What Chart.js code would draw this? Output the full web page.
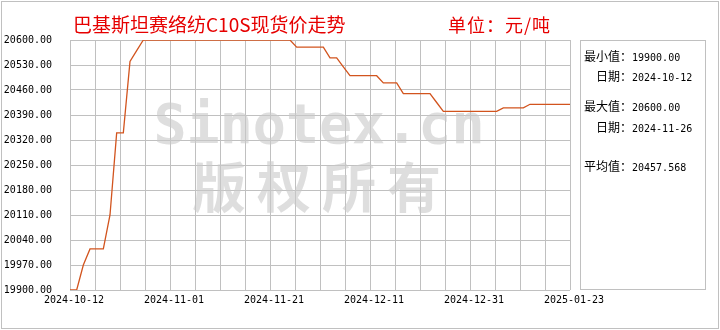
<!DOCTYPE html>
<html>
<head>
<meta charset="utf-8">
<script src="https://cdn.jsdelivr.net/npm/chart.js@4/dist/chart.umd.min.js"></script>
<style>
  body { margin: 0; background: #fff; }
  #wrap { position: relative; width: 720px; height: 330px; overflow: hidden; }
  #frame { position: absolute; left: 1px; top: 1px; width: 718px; height: 328px; box-sizing: border-box; border: 1px solid #c0c0c0; }
  .title { position: absolute; color: #e60000; font-family: "Noto Sans CJK SC"; white-space: pre; line-height: 1; }
  #side { position: absolute; left: 580px; top: 40px; width: 126px; height: 250px; box-sizing: border-box; border: 1px solid #c0c0c0; }
  .row { position: absolute; white-space: pre; font-family: "Noto Sans CJK SC"; font-size: 12px; line-height: 12px; color: #000; }
  .num { font-family: "DejaVu Sans Mono"; font-size: 10px; }
</style>
</head>
<body>
<div id="wrap">
  <canvas id="priceChart" width="720" height="330"></canvas>
  <div id="frame"></div>
  <div class="title" style="left:73px; top:14px; font-size:19px;">巴基斯坦赛络纺C10S现货价走势</div>
  <div class="title" style="left:448px; top:15px; font-size:18px; letter-spacing:1px;">单位：元/吨</div>
  <div id="side">
    <div class="row" style="left:3px; top:9px;">最小值：<span class="num">19900.00</span></div>
    <div class="row" style="left:15px; top:29px;">日期：<span class="num">2024-10-12</span></div>
    <div class="row" style="left:3px; top:59px;">最大值：<span class="num">20600.00</span></div>
    <div class="row" style="left:15px; top:80px;">日期：<span class="num">2024-11-26</span></div>
    <div class="row" style="left:3px; top:119px;">平均值：<span class="num">20457.568</span></div>
  </div>
</div>
<script>
// tick labels shown under the x axis (every 15 trading days)
const tickLabels = ['2024-10-12', '2024-11-01', '2024-11-21', '2024-12-11', '2024-12-31', '2025-01-23'];

// daily spot price, yuan/ton, one value per trading day (76 points)
const prices = [
  19900, 19900, 19970, 20015, 20015, 20015, 20110, 20340, 20340, 20540,
  20570, 20600, 20600, 20600, 20600, 20600, 20600, 20600, 20600, 20600,
  20600, 20600, 20600, 20600, 20600, 20600, 20600, 20600, 20600, 20600,
  20600, 20600, 20600, 20600, 20580, 20580, 20580, 20580, 20580, 20550,
  20550, 20525, 20500, 20500, 20500, 20500, 20500, 20480, 20480, 20480,
  20450, 20450, 20450, 20450, 20450, 20425, 20400, 20400, 20400, 20400,
  20400, 20400, 20400, 20400, 20400, 20410, 20410, 20410, 20410, 20420,
  20420, 20420, 20420, 20420, 20420, 20420
];

const yMin = 19900;
const yMax = 20600;
const yStep = 70;

// Watermark behind the line
const watermark = {
  id: 'watermark',
  beforeDatasetsDraw(chart) {
    const ctx = chart.ctx;
    ctx.save();
    ctx.fillStyle = 'rgba(200,200,200,0.6)';
    ctx.textAlign = 'center';
    ctx.textBaseline = 'middle';
    ctx.font = 'bold 55px "DejaVu Sans Mono"';
    ctx.fillText('Sinotex.cn', 319, 129);
    ctx.font = 'bold 54px "Noto Sans CJK SC"';
    ctx.letterSpacing = '11px';
    ctx.fillText('版权所有', 322, 187);
    ctx.restore();
  }
};

const lastIndex = prices.length - 1;

new Chart(document.getElementById('priceChart'), {
  type: 'line',
  data: {
    datasets: [{
      data: prices.map((v, i) => ({ x: i, y: v })),
      borderColor: '#d2541e',
      borderWidth: 1.3,
      pointRadius: 0,
      tension: 0,
      fill: false
    }]
  },
  options: {
    responsive: false,
    animation: false,
    devicePixelRatio: 1,
    layout: { padding: { left: 0, right: 150, top: 40, bottom: 0 } },
    plugins: {
      legend: { display: false },
      tooltip: { enabled: false }
    },
    scales: {
      x: {
        type: 'linear',
        min: 0,
        max: lastIndex,
        afterFit: (scale) => { scale.height = 40; },
        grid: { color: '#c0c0c0', drawTicks: false },
        border: { display: false },
        ticks: {
          stepSize: lastIndex / 20,
          autoSkip: false,
          maxRotation: 0,
          padding: 4,
          labelOffset: 4,
          color: '#000',
          font: { family: 'DejaVu Sans Mono', size: 10 },
          callback: (value, index) => (index % 4 === 0 ? tickLabels[index / 4] : '')
        }
      },
      y: {
        min: yMin,
        max: yMax,
        afterFit: (scale) => { scale.width = 70; },
        grid: { color: '#c0c0c0', drawTicks: false },
        border: { display: false },
        ticks: {
          stepSize: yStep,
          padding: 18,
          color: '#000',
          font: { family: 'DejaVu Sans Mono', size: 10 },
          callback: (v) => v.toFixed(2)
        }
      }
    }
  },
  plugins: [watermark]
});
</script>
</body>
</html>
